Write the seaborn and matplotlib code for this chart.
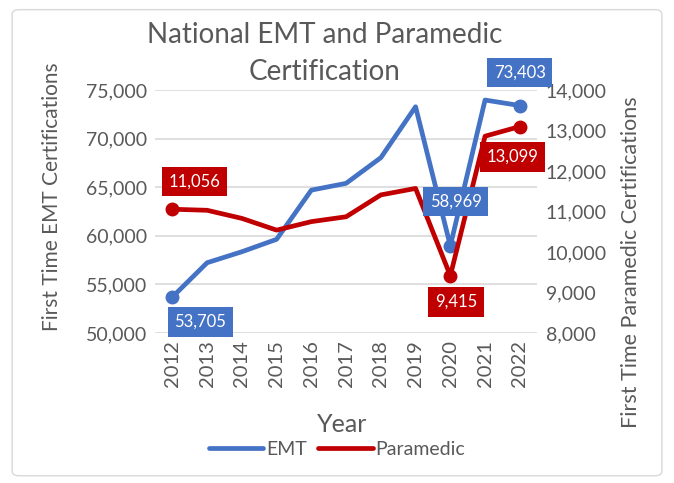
import matplotlib
matplotlib.use("Agg")
import matplotlib.pyplot as plt
from matplotlib.patches import FancyBboxPatch
from matplotlib.ticker import FuncFormatter
import seaborn as sns
import pandas as pd

years = [2012, 2013, 2014, 2015, 2016, 2017, 2018, 2019, 2020, 2021, 2022]
emt = [53705, 57230, 58360, 59640, 64700, 65400, 68040, 73280, 58969, 73970, 73403]
paramedic = [11056, 11030, 10830, 10540, 10750, 10870, 11410, 11570, 9415, 12860, 13099]
labeled_idx = [0, 8, 10]
title_lines = ["National EMT and Paramedic", "Certification"]

BLUE = "#4472C4"
RED = "#C00000"
GREY = "#595959"

sns.set_theme(style="white")
plt.rcParams["font.family"] = ["Lato", "DejaVu Sans"]

df = pd.DataFrame({"pos": range(len(years)), "EMT": emt, "Paramedic": paramedic})

fig = plt.figure(figsize=(6.74, 4.83), dpi=100)
fig.patches.append(FancyBboxPatch((0.018, 0.015), 0.964, 0.965, boxstyle="round,pad=0,rounding_size=0.01",
                                  transform=fig.transFigure, fc="none", ec="#D9D9D9", lw=1, zorder=-1))
ax = fig.add_axes([0.230, 0.3106, 0.567, 0.503])
ax2 = ax.twinx()

sns.lineplot(data=df, x="pos", y="EMT", ax=ax, color=BLUE, lw=3.4, label="EMT", legend=False)
sns.lineplot(data=df, x="pos", y="Paramedic", ax=ax2, color=RED, lw=3.4, label="Paramedic", legend=False)
ax.plot(df["pos"].iloc[labeled_idx], df["EMT"].iloc[labeled_idx], "o", color=BLUE, ms=9)
ax2.plot(df["pos"].iloc[labeled_idx], df["Paramedic"].iloc[labeled_idx], "o", color=RED, ms=9)

ax.set_xlim(-0.5, len(years) - 0.5)
ax.set_ylim(50000, 75000)
ax2.set_ylim(8000, 14000)
ax.set_yticks(range(50000, 75001, 5000))
ax2.set_yticks(range(8000, 14001, 1000))
fmt = FuncFormatter(lambda v, p: f"{int(v):,}")
ax.yaxis.set_major_formatter(fmt)
ax2.yaxis.set_major_formatter(fmt)
ax.set_xticks(df["pos"])
ax.set_xticklabels([str(y) for y in years], rotation=90)

ax.grid(axis="y", color="#D9D9D9", lw=1.2)
ax.set_axisbelow(True)
for a in (ax, ax2):
    for s in a.spines.values():
        s.set_visible(False)
    a.tick_params(length=0, labelsize=14, labelcolor=GREY, pad=6)
ax.tick_params(axis="x", labelsize=14.5, pad=5)

ax.set_xlabel("Year", fontsize=18, color=GREY)
ax.set_ylabel("First Time EMT Certifications", fontsize=15, color=GREY)
ax2.set_ylabel("First Time Paramedic Certifications", fontsize=15.5, color=GREY)
for lab in (ax.xaxis.label, ax.yaxis.label, ax2.yaxis.label):
    lab.set_va("center")
ax.xaxis.set_label_coords(0.49, -0.375)
ax.yaxis.set_label_coords(-0.27, 0.56)
ax2.yaxis.set_label_coords(1.245, 0.29)

fig.text(0.482, 0.9275, title_lines[0], ha="center", va="center", fontsize=20, color=GREY)
fig.text(0.482, 0.851, title_lines[1], ha="center", va="center", fontsize=20, color=GREY)

# data labels (offsets in points), drawn on ax2 so they sit above both lines
emt_off = {0: (20, -18), 8: (4, 32), 10: (0, 24)}
par_off = {0: (16, 20), 8: (4, -19), 10: (-5, -22)}
for i in labeled_idx:
    ax2.annotate(f"{emt[i]:,}", (i, emt[i]), xycoords=ax.transData, xytext=emt_off[i],
                 textcoords="offset points", ha="center", va="center", color="white", fontsize=12,
                 bbox=dict(boxstyle="square,pad=0.4", fc=BLUE, ec="none"), zorder=5)
    ax2.annotate(f"{paramedic[i]:,}", (i, paramedic[i]), xytext=par_off[i], textcoords="offset points",
                 ha="center", va="center", color="white", fontsize=12,
                 bbox=dict(boxstyle="square,pad=0.4", fc=RED, ec="none"), zorder=5)

h1, l1 = ax.get_legend_handles_labels()
h2, l2 = ax2.get_legend_handles_labels()
fig.legend(h1[:1] + h2[:1], ["EMT", "Paramedic"], loc="center", bbox_to_anchor=(0.5, 0.07),
           ncol=2, frameon=False, fontsize=14, labelcolor=GREY, handlelength=2.8,
           handletextpad=0.15, columnspacing=0.6)

fig.savefig("out.png", dpi=100)
